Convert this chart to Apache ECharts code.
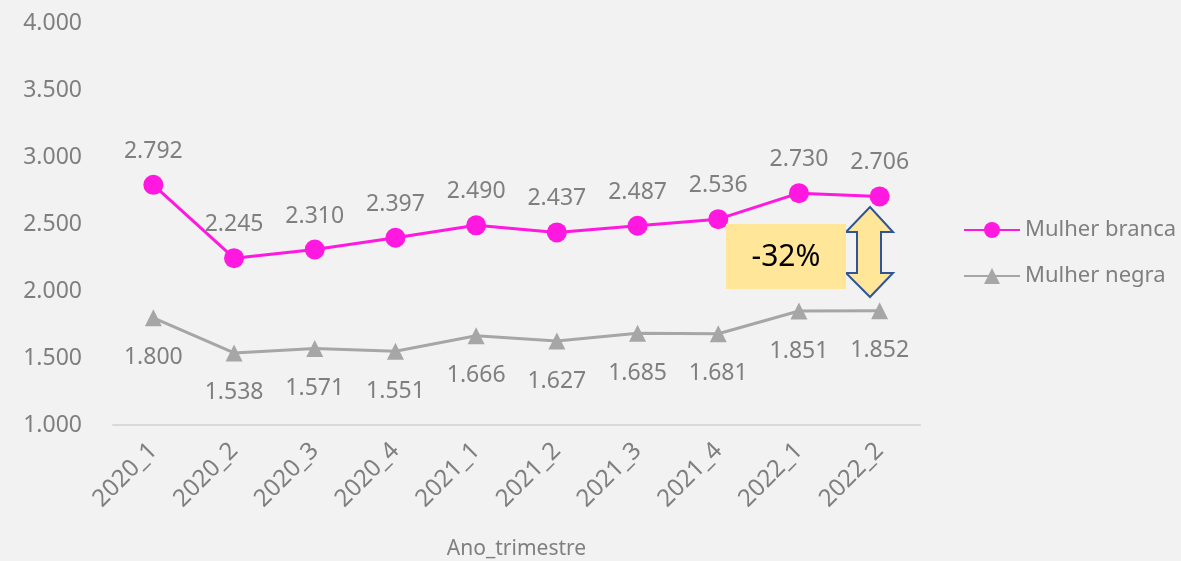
<!DOCTYPE html>
<html>
<head>
<meta charset="utf-8">
<script src="https://cdn.jsdelivr.net/npm/echarts@6/dist/echarts.min.js"></script>
<style>
  html, body { margin: 0; padding: 0; background: #f2f2f2; }
  #chart { width: 1181px; height: 561px; }
</style>
</head>
<body>
<div id="chart"></div>
<script>
// dados
const categorias = ['2020_1', '2020_2', '2020_3', '2020_4', '2021_1', '2021_2', '2021_3', '2021_4', '2022_1', '2022_2'];
const mulherBranca = [2792, 2245, 2310, 2397, 2490, 2437, 2487, 2536, 2730, 2706];
const mulherNegra = [1800, 1538, 1571, 1551, 1666, 1627, 1685, 1681, 1851, 1852];
const diferencaTexto = '-32%';

const fonte = "'Noto Sans', sans-serif";
const cinzaTexto = '#7f7f7f';
const fmt = v => (v / 1000).toFixed(3);

var myChart = echarts.init(document.getElementById('chart'));

var option = {
  backgroundColor: '#f2f2f2',
  textStyle: { fontFamily: fonte },
  grid: {
    left: 113,
    right: 261,
    top: 23,
    bottom: 136,
    containLabel: false,
    outerBoundsMode: 'none'
  },
  legend: {
    orient: 'vertical',
    left: 958,
    top: 214,
    itemWidth: 56,
    itemHeight: 20,
    itemGap: 24,
    textStyle: {
      color: cinzaTexto,
      fontSize: 22,
      fontFamily: fonte
    },
    data: ['Mulher branca', 'Mulher negra']
  },
  xAxis: {
    type: 'category',
    data: categorias,
    boundaryGap: true,
    name: 'Ano_trimestre',
    nameLocation: 'middle',
    nameGap: 114,
    nameTextStyle: { color: cinzaTexto, fontSize: 21 },
    axisLine: { lineStyle: { color: '#d9d9d9', width: 2 } },
    axisTick: { show: false },
    axisLabel: {
      rotate: 45,
      margin: 22,
      color: cinzaTexto,
      fontSize: 24
    }
  },
  yAxis: {
    type: 'value',
    min: 1000,
    max: 4000,
    interval: 500,
    axisLine: { show: false },
    axisTick: { show: false },
    splitLine: { show: false },
    axisLabel: {
      margin: 31,
      color: cinzaTexto,
      fontSize: 23,
      formatter: fmt
    }
  },
  series: [
    {
      name: 'Mulher branca',
      type: 'line',
      data: mulherBranca,
      symbol: 'circle',
      symbolSize: 20,
      lineStyle: { color: '#ff18df', width: 3 },
      itemStyle: { color: '#ff18df' },
      label: {
        show: true,
        position: 'top',
        distance: 12,
        color: cinzaTexto,
        fontSize: 23,
        formatter: p => fmt(p.value)
      }
    },
    {
      name: 'Mulher negra',
      type: 'line',
      data: mulherNegra,
      symbol: 'triangle',
      symbolSize: 17,
      lineStyle: { color: '#a6a6a6', width: 3 },
      itemStyle: { color: '#a6a6a6' },
      label: {
        show: true,
        position: 'bottom',
        distance: 20,
        color: cinzaTexto,
        fontSize: 23,
        formatter: p => fmt(p.value)
      }
    }
  ],
  graphic: [
    {
      type: 'polygon',
      shape: {
        points: [[870, 207], [846, 232], [857, 232], [857, 273], [846, 273],
                 [870, 297], [893, 273], [881, 273], [881, 232], [893, 232]]
      },
      style: { fill: '#ffe699', stroke: '#2f5597', lineWidth: 2 },
      z: 10
    },
    {
      type: 'rect',
      shape: { x: 726, y: 224, width: 120, height: 65 },
      style: { fill: '#ffe699' },
      z: 11
    },
    {
      type: 'text',
      x: 786,
      y: 257,
      style: {
        text: diferencaTexto,
        fill: '#000',
        font: "30px 'Noto Sans', sans-serif",
        textAlign: 'center',
        textVerticalAlign: 'middle'
      },
      z: 12
    }
  ]
};

option && myChart.setOption(option);
</script>
</body>
</html>
